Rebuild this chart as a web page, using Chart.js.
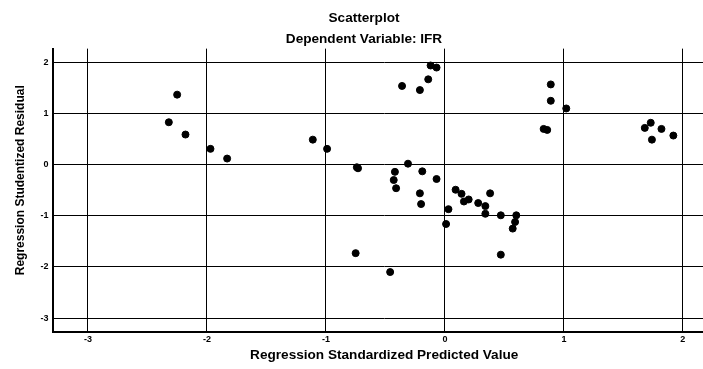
<!DOCTYPE html>
<html>
<head>
<meta charset="utf-8">
<script src="https://cdn.jsdelivr.net/npm/chart.js@4/dist/chart.umd.min.js"></script>
<style>
  html, body { margin: 0; padding: 0; background: #fff; overflow: hidden; }
  #wrap { width: 724px; height: 369px; }
</style>
</head>
<body>
<div id="wrap"><canvas id="scatter"></canvas></div>
<script>
// standardized predicted value (x) and studentized residual (y)
var predicted = [
  -2.25, -2.32, -2.18, -1.97, -1.83,
  -0.12, -0.07, -0.14, -0.36, -0.21,
  -1.11, -0.99, -0.74, -0.73, -0.31,
  -0.42, -0.43, -0.41, -0.19, -0.07,
  -0.21, -0.20, 0.09, 0.14, 0.16,
  0.20, 0.38, 0.28, 0.34, 0.34,
  0.03, 0.01, 0.47, 0.60, 0.59,
  0.57, 0.47, -0.75, -0.46,
  0.89, 0.89, 1.02, 0.83, 0.86,
  1.73, 1.68, 1.82, 1.74, 1.92
]
var residual = [
  1.37, 0.83, 0.59, 0.31, 0.12,
  1.94, 1.90, 1.67, 1.54, 1.46,
  0.49, 0.31, -0.05, -0.07, 0.02,
  -0.14, -0.30, -0.46, -0.13, -0.28,
  -0.56, -0.77, -0.49, -0.57, -0.72,
  -0.68, -0.56, -0.75, -0.81, -0.96,
  -0.87, -1.16, -0.99, -0.99, -1.12,
  -1.25, -1.76, -1.73, -2.10,
  1.57, 1.25, 1.10, 0.70, 0.68,
  0.82, 0.72, 0.70, 0.49, 0.57
]
var xTicks = [-3, -2, -1, 0, 1, 2]
var yTicks = [-3, -2, -1, 0, 1, 2]

var points = predicted.map((x, i) => ({x: x, y: residual[i]}))

var tickFont = {family: 'Liberation Sans', size: 9, weight: 'bold'}
var titleFont = {family: 'Liberation Sans', size: 13.6, weight: 'bold'}
var yTitleFont = {family: 'Liberation Sans', size: 12, weight: 'bold'}

var ctx = document.getElementById('scatter').getContext('2d')
var chart = new Chart(ctx, {
  type: 'scatter',
  data: {
    datasets: [{
      label: 'IFR',
      data: points,
      backgroundColor: '#000',
      borderColor: '#000',
      pointRadius: 3.5,
      pointHoverRadius: 3.5
    }]
  },
  options: {
    responsive: true,
    maintainAspectRatio: false,
    animation: false,
    layout: {padding: {left: 13, right: 9, top: 0, bottom: 6}},
    plugins: {
      legend: {display: false},
      tooltip: {enabled: false},
      title: {
        display: true,
        text: 'Scatterplot',
        color: '#000',
        font: titleFont,
        padding: {top: 10, bottom: 5}
      },
      subtitle: {
        display: true,
        text: 'Dependent Variable: IFR',
        color: '#000',
        font: titleFont,
        padding: {top: 0, bottom: 1}
      }
    },
    scales: {
      x: {
        type: 'linear',
        min: -3.29,
        max: 2.27,
        afterBuildTicks: function(scale) { scale.ticks = xTicks.map(v => ({value: v})) },
        ticks: {color: '#000', font: tickFont, padding: 2},
        grid: {color: '#000', lineWidth: 1, drawTicks: false},
        border: {color: '#000', width: 2},
        title: {
          display: true,
          text: 'Regression Standardized Predicted Value',
          color: '#000',
          font: titleFont,
          padding: {top: 0, bottom: 0}
        }
      },
      y: {
        type: 'linear',
        min: -3.27,
        max: 2.27,
        afterBuildTicks: function(scale) { scale.ticks = yTicks.map(v => ({value: v})) },
        ticks: {color: '#000', font: tickFont, padding: 5},
        grid: {color: '#000', lineWidth: 1, drawTicks: false},
        border: {color: '#000', width: 2},
        title: {
          display: true,
          // leading spaces nudge the label up a little, as in the original
          text: '      Regression Studentized Residual',
          color: '#000',
          font: yTitleFont,
          padding: {top: 0, bottom: 8}
        }
      }
    }
  }
})
</script>
</body>
</html>
